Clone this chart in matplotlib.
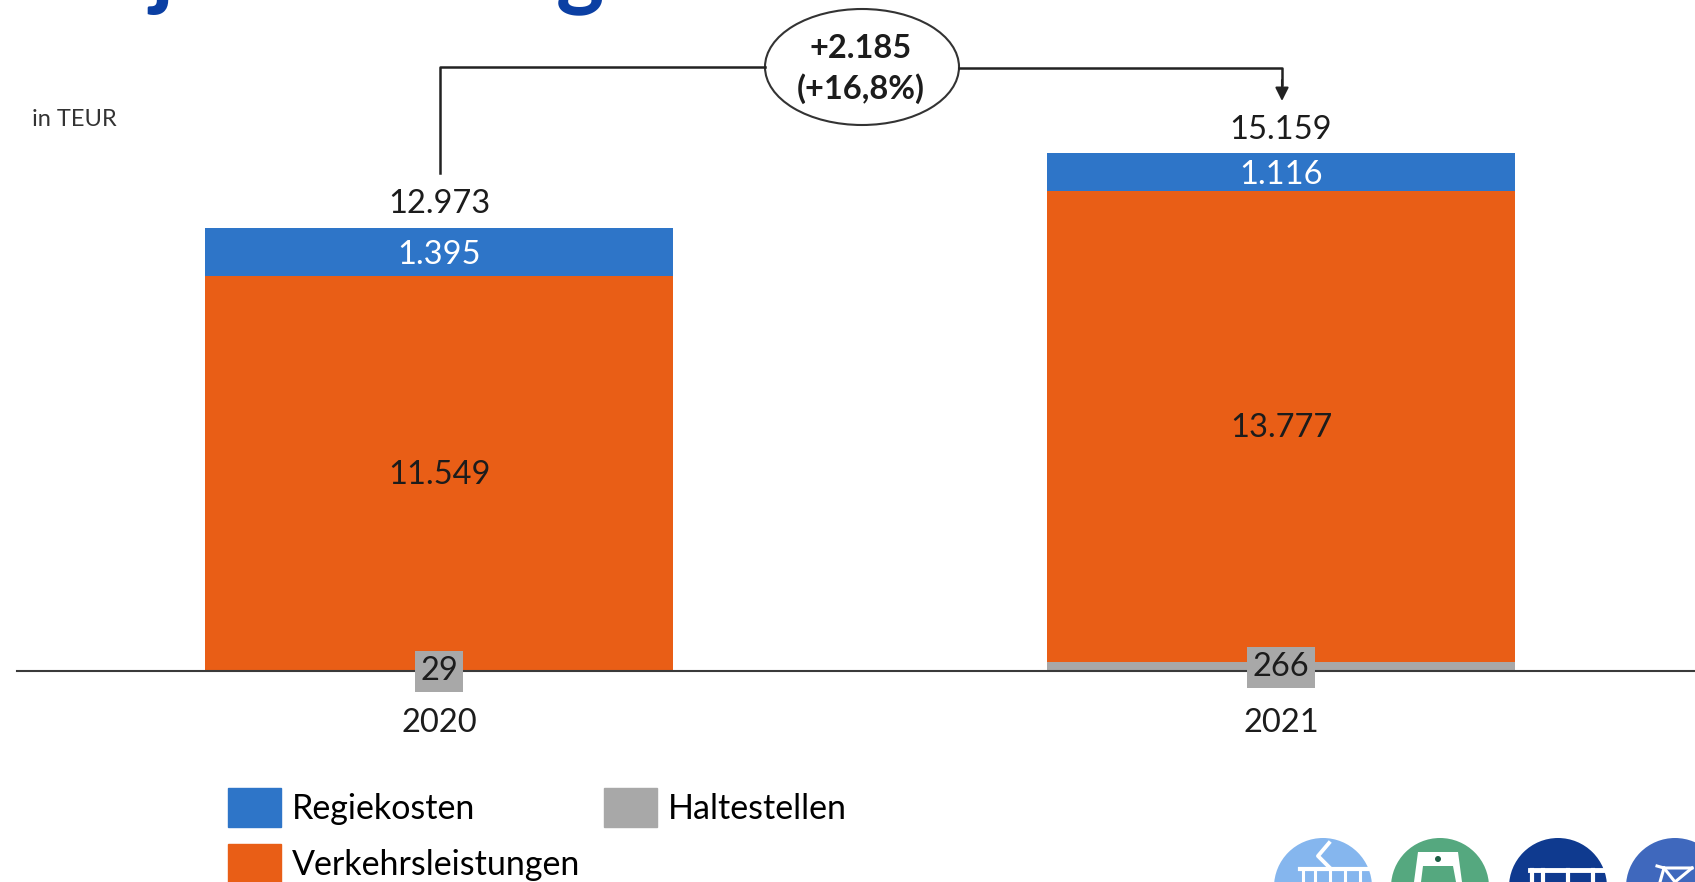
import numpy as np
import matplotlib
matplotlib.use("Agg")
import matplotlib.pyplot as plt
from matplotlib.patches import Ellipse, Patch, Polygon, FancyArrowPatch
from matplotlib.lines import Line2D

plt.rcParams['font.family'] = ['Lato', 'DejaVu Sans']

years = ['2020', '2021']
haltestellen = [29, 266]
verkehr = [11549, 13777]
regie = [1395, 1116]
totals = [12973, 15159]
diff_text = '+2.185\n(+16,8%)'

W, H = 1695, 882
blue = '#2e75c8'
orange = '#e95e16'
gray = '#a8a8a8'
dark = '#1c1c1c'


def fx(x):
    return x / W


def fy(y):
    return 1 - y / H


fig = plt.figure(figsize=(W / 100, H / 100), dpi=100)
base_y = 671
ax = fig.add_axes([fx(17), fy(base_y), fx(W - 17), base_y / H])

# 842 px between bar centres, 0.03415 px per TEUR
ax.set_xlim((17 - 439) / 842, (W - 439) / 842)
ax.set_ylim(0, base_y / 0.03415)
x = np.arange(2)
bw = 468 / 842

h = np.array(haltestellen)
v = np.array(verkehr)
r = np.array(regie)
ax.bar(x, h, bw, color=gray)
ax.bar(x, v, bw, bottom=h, color=orange)
ax.bar(x, r, bw, bottom=h + v, color=blue)

for s in ['top', 'left', 'right']:
    ax.spines[s].set_visible(False)
ax.spines['bottom'].set_color('#3a3a3a')
ax.spines['bottom'].set_linewidth(1.5)
ax.set_yticks([])
ax.set_xticks(x)
ax.set_xticklabels(years, fontsize=23.5, color=dark)
ax.tick_params(axis='x', length=0, pad=27)

fs = 23.5
for i in x:
    ax.text(i, totals[i] + 690, f'{totals[i]:,}'.replace(',', '.'), ha='center', va='center',
            fontsize=fs, color=dark)
    ax.text(i, h[i] + v[i] + r[i] / 2 - 80, f'{r[i]:,}'.replace(',', '.'), ha='center', va='center',
            fontsize=fs, color='white')
    ax.text(i, h[i] + v[i] / 2 - 50, f'{v[i]:,}'.replace(',', '.'), ha='center', va='center',
            fontsize=fs, color=dark)
    ax.text(i, h[i] / 2 - 20, str(h[i]), ha='center', va='center', fontsize=fs, color=dark, zorder=5,
            bbox=dict(facecolor=gray, edgecolor='none', pad=4))

# connector with ellipse
fig.add_artist(Line2D([fx(440), fx(440), fx(765)], [fy(173), fy(67), fy(67)], color='#222222', lw=1.8))
fig.add_artist(Line2D([fx(959), fx(1282), fx(1282)], [fy(68), fy(68), fy(85)], color='#222222', lw=1.8))
fig.add_artist(FancyArrowPatch((fx(1282), fy(80)), (fx(1282), fy(101)), transform=fig.transFigure,
                               arrowstyle='-|>', mutation_scale=20, color='#222222', lw=1.5,
                               shrinkA=0, shrinkB=0))
fig.add_artist(Ellipse((fx(862), fy(67)), 194 / W, 116 / H, transform=fig.transFigure,
                       facecolor='white', edgecolor='#333333', lw=1.5))
l1, l2 = diff_text.split('\n')
fig.text(fx(861), fy(48), l1, ha='center', va='center', fontsize=23.5, fontweight='bold', color=dark)
fig.text(fx(861), fy(89), l2, ha='center', va='center', fontsize=23.5, fontweight='bold', color=dark)

fig.text(fx(32), fy(119), 'in TEUR', ha='left', va='center', fontsize=17, color='#333333')

# cut off title, only the descenders show
title_blue = '#0b3fa3'
fig.text(fx(150), fy(-2), 'j', ha='left', va='baseline', fontsize=66, fontweight='bold', color=title_blue)
fig.text(fx(556), fy(-2), 'g', ha='left', va='baseline', fontsize=66, fontweight='bold', color=title_blue)

# legend
handles = [Patch(color=blue), Patch(color=orange), Patch(color=gray)]
labels = ['Regiekosten', 'Verkehrsleistungen', 'Haltestellen']
fig.legend(handles, labels, ncol=2, loc='upper left', bbox_to_anchor=(fx(228), fy(788)),
           frameon=False, fontsize=24.5, handlelength=1.55, handleheight=1.4, handletextpad=0.33,
           labelspacing=0.5, columnspacing=0.69, borderpad=0, borderaxespad=0)

# round icons cut by the lower edge
centers = [1323, 1440, 1558, 1675]
icon_cols = ['#85b6ee', '#55a87f', '#0f3a8f', '#3f68bd']
for cx, c in zip(centers, icon_cols):
    fig.add_artist(Ellipse((fx(cx), fy(887)), 98 / W, 98 / H, transform=fig.transFigure,
                           facecolor=c, edgecolor='none'))


def wline(xs, ys, lw=2.2):
    fig.add_artist(Line2D([fx(p) for p in xs], [fy(p) for p in ys], color='white', lw=lw))


def poly(pts, col):
    fig.add_artist(Polygon([(fx(a), fy(b)) for a, b in pts], closed=True, transform=fig.transFigure,
                           facecolor=col, edgecolor='none'))


# tram
wline([1329, 1318, 1329], [843, 856, 867], lw=2.8)
wline([1300, 1368], [869, 869], lw=3)
for p in [1303, 1315, 1330, 1345, 1360]:
    wline([p, p], [869, 882], lw=2.2)
# bus front
poly([(1414, 882), (1418, 852), (1458, 852), (1462, 882)], 'white')
poly([(1421, 882), (1423, 866), (1453, 866), (1456, 882)], '#55a87f')
fig.add_artist(Ellipse((fx(1438), fy(859)), 6 / W, 6 / H, transform=fig.transFigure,
                       facecolor='#1d5f45', edgecolor='none'))
# train
wline([1530, 1605], [870, 870], lw=3.5)
for p in [1532, 1543, 1568, 1593]:
    wline([p, p], [870, 882], lw=3)
# bike
wline([1657, 1664, 1692], [866, 868, 868], lw=2.2)
wline([1664, 1675, 1692], [868, 882, 868], lw=2.2)
wline([1660, 1664], [882, 868], lw=2.2)

fig.savefig('out.png', dpi=100)
